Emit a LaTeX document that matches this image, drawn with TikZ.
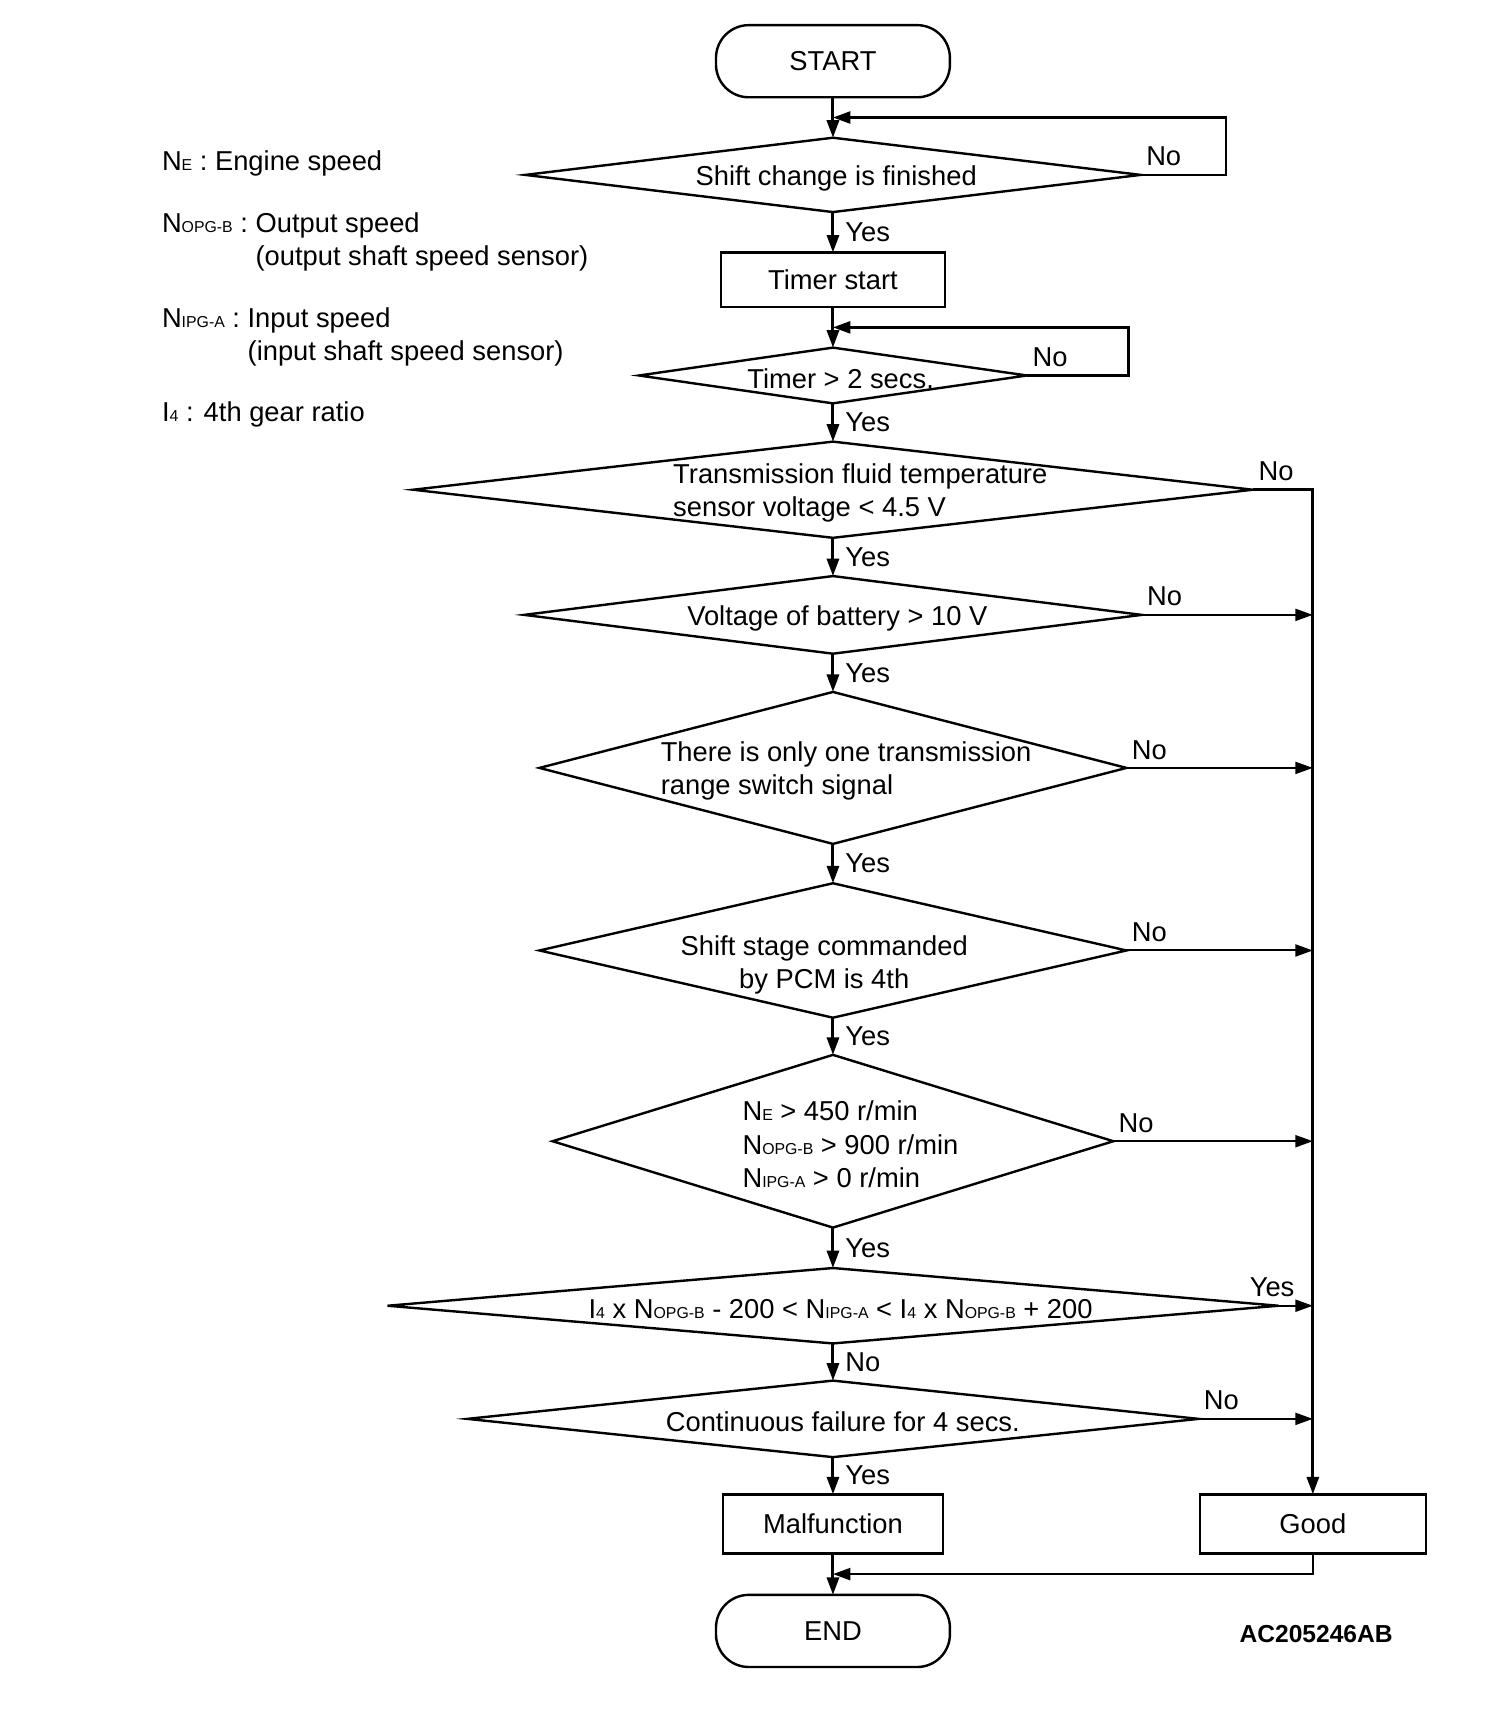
\documentclass[tikz,border=0pt]{standalone}
\usepackage{fontspec}
\setmainfont{Liberation Sans}
\usetikzlibrary{shapes.geometric}
\usetikzlibrary{positioning}
\usetikzlibrary{arrows.meta}
\usetikzlibrary{calc}
\newcommand{\sx}[1]{{\fontsize{14.5}{14.5}\selectfont #1}}
\tikzset{
terminal/.style={rectangle, rounded corners=30pt, draw, line width=2.2pt, outer sep=0pt, minimum width=214pt, minimum height=66pt},
process/.style={rectangle, draw, line width=2.2pt, outer sep=0pt, minimum height=54pt},
decision/.style={diamond, draw, line width=2.2pt, aspect=1, inner sep=0pt, outer sep=0pt},
dtext/.style={inner sep=0pt, yshift=-3pt},
flow/.style={->, line width=2.8pt},
side/.style={->, line width=1.8pt},
bus/.style={->, line width=2.8pt},
vlbl/.style={right, inner sep=5pt, xshift=5pt},
nlbl/.style={above right, inner sep=4pt, yshift=3pt},
legend/.style={anchor=base west, inner sep=0pt, align=left}
}
\begin{document}
\begin{tikzpicture}[x=1pt, y=-1pt, font=\fontsize{25}{30.5}\selectfont, >={Triangle[length=16pt, width=11pt]}]
    \useasboundingbox (0,0) rectangle (1376,1568);
    % legend
    \node[legend] (leg_ne) at (148,156) {N\sx{E} : Engine speed};
    \node[legend] (leg_opg) at (148,243) {N\sx{OPG-B} : Output speed\\\phantom{N\sx{OPG-B} : }(output shaft speed sensor)};
    \node[legend] (leg_ipg) at (148,330) {N\sx{IPG-A} : Input speed\\\phantom{N\sx{IPG-A} : }(input shaft speed sensor)};
    \node[legend] (leg_i4) at (148,386) {I\sx{4} : 4th gear ratio};
    % main column
    \node[terminal] (start) at (762,56) {START};
    \node[decision, minimum width=563pt, minimum height=68pt] (shift) [below=37pt of start] {};
    \node[process, minimum width=205pt, minimum height=50pt] (timer) [below=37pt of shift] {Timer start};
    \node[decision, minimum width=355pt, minimum height=51pt] (tmr) [below=37pt of timer] {};
    \node[decision, minimum width=768pt, minimum height=88pt] (fluid) [below=35pt of tmr] {};
    \node[decision, minimum width=565pt, minimum height=71pt] (battery) [below=35pt of fluid] {};
    \node[decision, minimum width=537pt, minimum height=139pt] (range) [below=35pt of battery] {};
    \node[decision, minimum width=537pt, minimum height=123pt] (stage) [below=36pt of range] {};
    \node[decision, minimum width=513pt, minimum height=158pt] (speeds) [below=34pt of stage] {};
    \node[decision, minimum width=815pt, minimum height=69pt] (ratio) [below=37pt of speeds] {};
    \node[decision, minimum width=669pt, minimum height=70pt] (failure) [below=34pt of ratio] {};
    \node[process, minimum width=201pt] (malf) [below=34pt of failure] {Malfunction};
    \node[terminal] (finish) [below=38pt of malf] {END};
    \node[process, minimum width=207pt] (good) [right=235pt of malf] {Good};
    % texts in the decisions
    \node[dtext, xshift=3pt] (shift_txt) at (shift) {Shift change is finished};
    \node[dtext, xshift=7pt] (tmr_txt) at (tmr) {Timer > 2 secs.};
    \node[dtext, align=left, xshift=25pt] (fluid_txt) at (fluid) {Transmission fluid temperature\\sensor voltage < 4.5 V};
    \node[dtext, xshift=4pt] (battery_txt) at (battery) {Voltage of battery > 10 V};
    \node[dtext, align=left, xshift=12pt] (range_txt) at (range) {There is only one transmission\\range switch signal};
    \node[dtext, align=center, xshift=-8pt, yshift=-10pt] (stage_txt) at (stage) {Shift stage commanded\\by PCM is 4th};
    \node[dtext, align=left, xshift=16pt] (speeds_txt) at (speeds) {N\sx{E} > 450 r/min\\N\sx{OPG-B} > 900 r/min\\N\sx{IPG-A} > 0 r/min};
    \node[dtext, xshift=7pt] (ratio_txt) at (ratio) {I\sx{4} x N\sx{OPG-B} - 200 < N\sx{IPG-A} < I\sx{4} x N\sx{OPG-B} + 200};
    \node[dtext, xshift=9pt] (failure_txt) at (failure) {Continuous failure for 4 secs.};
    \node[font=\fontsize{22.5}{27}\selectfont\bfseries] (code) at (1204,1495) {AC205246AB};
    % junctions
    \coordinate (shift_in) at ($(start.south)!0.5!(shift.north)$);
    \coordinate (tmr_in) at ($(timer.south)!0.5!(tmr.north)$);
    \coordinate (end_in) at ($(malf.south)!0.5!(finish.north)$);
    % flow down
    \draw[flow] (start) -- (shift);
    \draw[flow] (shift) -- node[vlbl] {Yes} (timer);
    \draw[flow] (timer) -- (tmr);
    \draw[flow] (tmr) -- node[vlbl] {Yes} (fluid);
    \draw[flow] (fluid) -- node[vlbl] {Yes} (battery);
    \draw[flow] (battery) -- node[vlbl] {Yes} (range);
    \draw[flow] (range) -- node[vlbl] {Yes} (stage);
    \draw[flow] (stage) -- node[vlbl] {Yes} (speeds);
    \draw[flow] (speeds) -- node[vlbl] {Yes} (ratio);
    \draw[flow] (ratio) -- node[vlbl] {No} (failure);
    \draw[flow] (failure) -- node[vlbl] {Yes} (malf);
    \draw[flow] (malf) -- (finish);
    % loops back
    \draw[flow, line width=2.2pt] (shift.east) node[nlbl] {No} -- ++(78,0) |- (shift_in);
    \draw[flow, line width=2.2pt] (tmr.east) node[nlbl] {No} -- ++(93,0) |- (tmr_in);
    % to good
    \draw[bus] (fluid.east) node[nlbl] {No} -- (fluid.east -| good.north) -- (good.north);
    \draw[side] (battery.east) node[nlbl] {No} -- (battery.east -| good.north);
    \draw[side] (range.east) node[nlbl] {No} -- (range.east -| good.north);
    \draw[side] (stage.east) node[nlbl] {No} -- (stage.east -| good.north);
    \draw[side] (speeds.east) node[nlbl] {No} -- (speeds.east -| good.north);
    \draw[side] (ratio.east) -- node[pos=1, above left, inner sep=4pt, yshift=3pt, xshift=-12pt] {Yes} (ratio.east -| good.north);
    \draw[side] (failure.east) node[nlbl] {No} -- (failure.east -| good.north);
    \draw[flow, line width=2.2pt] (good.south) |- (end_in);
\end{tikzpicture}
\end{document}
